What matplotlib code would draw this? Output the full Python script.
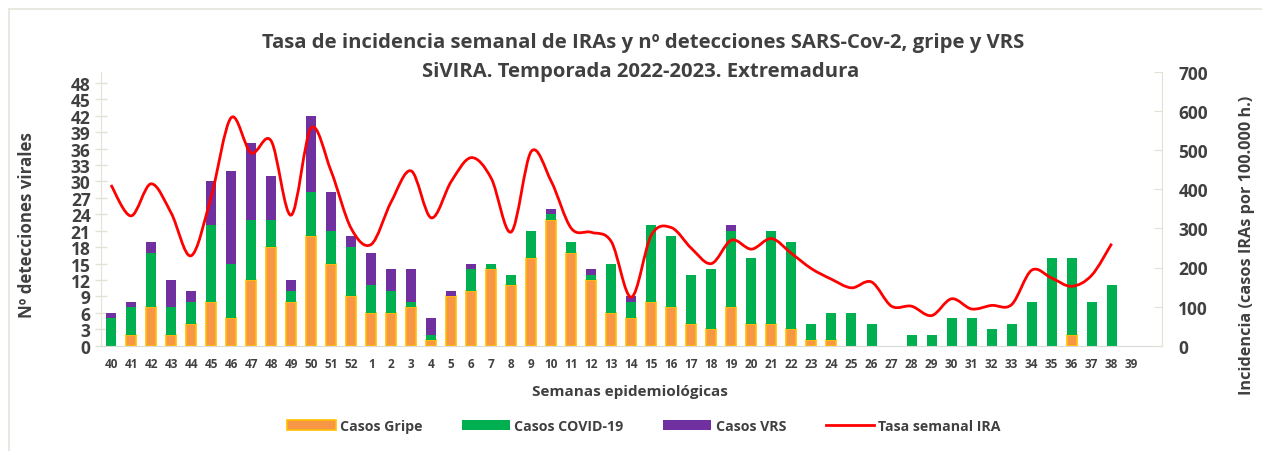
import matplotlib
matplotlib.use("Agg")
import matplotlib.pyplot as plt
from matplotlib.path import Path
from matplotlib.patches import PathPatch, Patch
from matplotlib.lines import Line2D

# semanas epidemiologicas 40..52 y 1..39
weeks = list(range(40, 53)) + list(range(1, 40))
gripe = [0, 2, 7, 2, 4, 8, 5, 12, 18, 8, 20, 15, 9,
         6, 6, 7, 1, 9, 10, 14, 11, 16, 23, 17, 12, 6, 5, 8, 7, 4, 3, 7, 4, 4, 3,
         1, 1, 0, 0, 0, 0, 0, 0, 0, 0, 0, 0, 0, 2, 0, 0, 0]
covid = [5, 5, 10, 5, 4, 14, 10, 11, 5, 2, 8, 6, 9,
         5, 4, 1, 1, 0, 4, 1, 2, 5, 1, 2, 1, 9, 3, 14, 13, 9, 11, 14, 12, 17, 16,
         3, 5, 6, 4, 0, 2, 2, 5, 5, 3, 4, 8, 16, 14, 8, 11, 0]
vrs = [1, 1, 2, 5, 2, 8, 17, 14, 8, 2, 14, 7, 2,
       6, 4, 6, 3, 1, 1, 0, 0, 0, 1, 0, 1, 0, 1, 0, 0, 0, 0, 1, 0, 0, 0,
       0, 0, 0, 0, 0, 0, 0, 0, 0, 0, 0, 0, 0, 0, 0, 0, 0]
# tasa semanal IRA (semanas 40..38)
tasa = [411, 332, 414, 340, 230, 380, 583, 493, 524, 334, 557, 446, 300,
        259, 368, 447, 327, 420, 481, 428, 291, 497, 420, 300, 290, 266, 124, 283, 302,
        249, 210, 270, 247, 274, 236, 197, 170, 148, 163, 101, 101, 77, 120, 94, 103,
        105, 193, 173, 152, 180, 261]

TXT = "#404040"; ORANGE = "#F79646"; GOLD = "#FFC000"; GREEN = "#00B050"
PURPLE = "#7030A0"; RED = "#FF0000"; AXC = "#e3e1d6"
plt.rcParams["font.family"] = ["Open Sans", "DejaVu Sans"]
plt.rcParams["font.weight"] = "bold"

fig = plt.figure(figsize=(12.62, 4.52), dpi=100)
ax = fig.add_axes([101/1262, 1-346.7/452, (1161.7-101)/1262, (346.7-73)/452])
x = list(range(len(weeks)))
bottom2 = [g + c for g, c in zip(gripe, covid)]
ax.bar(x, gripe, width=0.5, color=ORANGE, edgecolor=GOLD,
       lw=[1.2 if g > 0 else 0 for g in gripe], zorder=2)
ax.bar(x, covid, width=0.5, bottom=gripe, color=GREEN, lw=0, zorder=2)
ax.bar(x, vrs, width=0.5, bottom=bottom2, color=PURPLE, lw=0, zorder=2)
ax.set_xlim(-0.5, len(weeks) + 0.5)
ax.set_ylim(0, 50)
ax.set_yticks(range(0, 49, 3))
ax.set_xticks(x)
ax.set_xticklabels([str(w) for w in weeks])
ax.tick_params(axis="y", direction="inout", length=9, width=1, color=AXC, pad=3,
               labelsize=12.5, labelcolor=TXT)
ax.tick_params(axis="x", length=0, pad=8, labelsize=8.5, labelcolor=TXT)
for s in ["top", "right"]:
    ax.spines[s].set_visible(False)
ax.spines["left"].set_color(AXC)
ax.spines["bottom"].set_color("#d9d9d9")

# eje secundario con la tasa (linea suavizada)
ax2 = ax.twinx()
ax2.set_ylim(0, 700)
ax2.set_yticks(range(0, 701, 100))
ax2.tick_params(axis="y", direction="in", length=6, color=AXC, pad=12,
                labelsize=12.5, labelcolor=TXT)
for s in ["top", "left", "bottom"]:
    ax2.spines[s].set_visible(False)
ax2.spines["right"].set_color(AXC)

n = len(tasa)
verts = [(0, tasa[0])]
codes = [Path.MOVETO]
for i in range(n - 1):
    x0, y0 = (i - 1, tasa[i - 1]) if i > 0 else (i, tasa[i])
    x3, y3 = (i + 2, tasa[i + 2]) if i + 2 < n else (i + 1, tasa[i + 1])
    verts += [(i + (i + 1 - x0) / 6, tasa[i] + (tasa[i + 1] - y0) / 6),
              (i + 1 - (x3 - i) / 6, tasa[i + 1] - (y3 - tasa[i]) / 6),
              (i + 1, tasa[i + 1])]
    codes += [Path.CURVE4] * 3
ax2.add_patch(PathPatch(Path(verts, codes), fill=False, edgecolor=RED, lw=2, zorder=3))

fig.text(643/1262, 1-43/452, "Tasa de incidencia semanal de IRAs y nº detecciones SARS-Cov-2, gripe y VRS",
         ha="center", va="center", fontsize=14.6, color=TXT)
fig.text(641/1262, 1-72/452, "SiVIRA. Temporada 2022-2023. Extremadura",
         ha="center", va="center", fontsize=14.6, color=TXT)
fig.text(27/1262, 1-225/452, "Nº detecciones virales", rotation=90,
         ha="center", va="center", fontsize=12.2, color=TXT)
fig.text(1247/1262, 1-245/452, "Incidencia (casos IRAs por 100.000 h.)", rotation=90,
         ha="center", va="center", fontsize=11.7, color=TXT)
fig.text(630/1262, 1-392/452, "Semanas epidemiológicas",
         ha="center", va="center", fontsize=11, color=TXT)

h = [Patch(facecolor=ORANGE, edgecolor=GOLD, lw=1.2),
     Patch(facecolor=GREEN, lw=0),
     Patch(facecolor=PURPLE, lw=0),
     Line2D([], [], color=RED, lw=2)]
l = ["Casos Gripe", "Casos COVID-19", "Casos VRS", "Tasa semanal IRA"]
fig.legend(h, l, loc="center", bbox_to_anchor=(644/1262, 1-427/452), ncol=4,
           frameon=False, fontsize=10.2, labelcolor=TXT, handlelength=3.4,
           handleheight=0.7, columnspacing=2.8, handletextpad=0.3)

# marco exterior
fig.add_artist(Line2D([9/1262, 9/1262], [0, 1-10/452], color="#e8e8e0", lw=1.5))
fig.add_artist(Line2D([9/1262, 1], [1-10/452, 1-10/452], color="#e8e8e0", lw=1.5))

fig.savefig("out.png", dpi=100, facecolor="white")
